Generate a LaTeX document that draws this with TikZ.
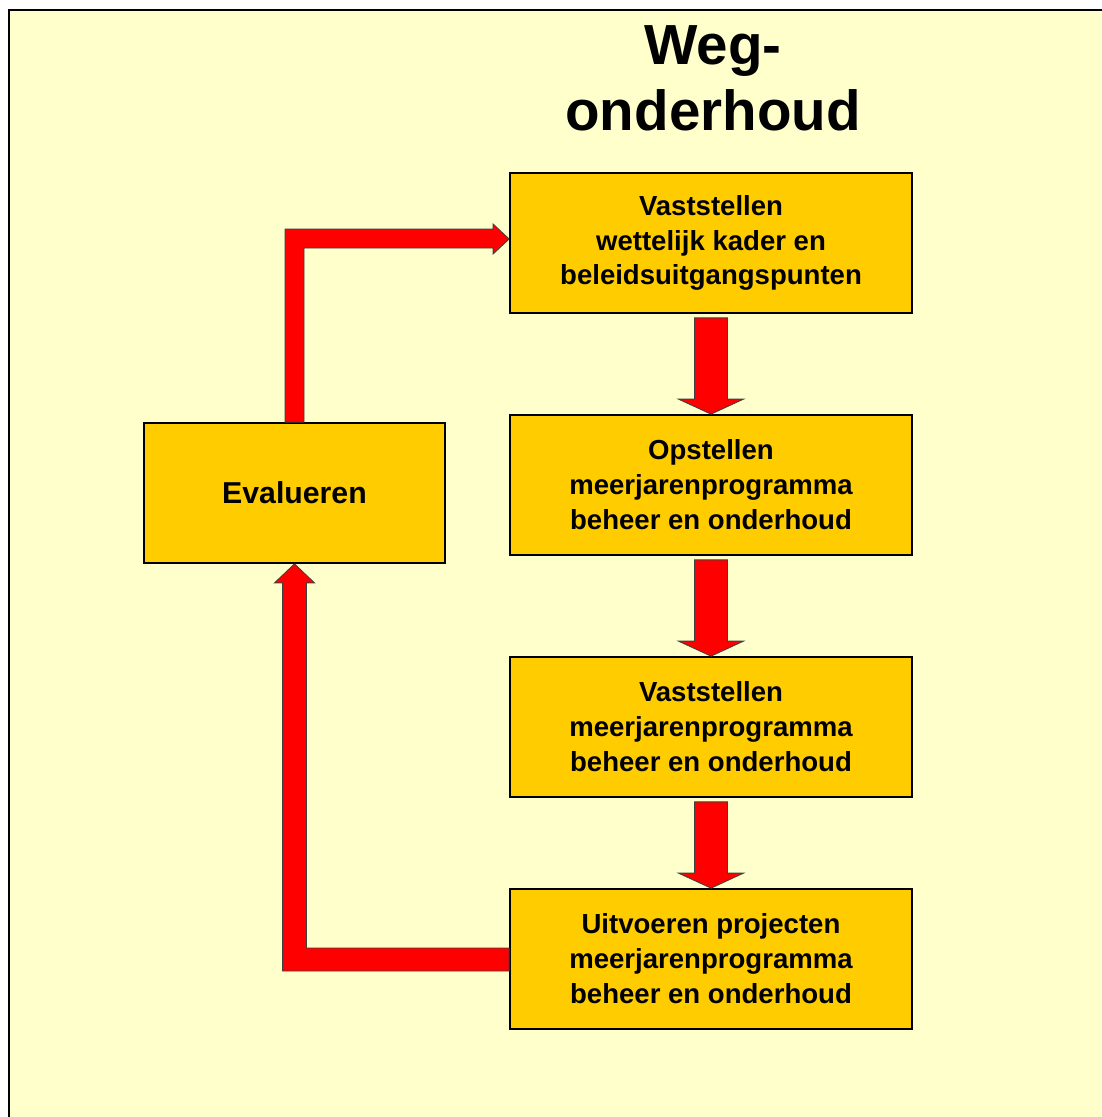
\documentclass[tikz,border=0pt]{standalone}
\usepackage{fontspec}
\setmainfont{Liberation Sans}
\usetikzlibrary{calc}

\definecolor{achtergrond}{HTML}{FFFFCC}
\definecolor{blokgeel}{HTML}{FFCC00}

\tikzset{
  blok/.style={draw, rectangle, line width=1.2pt, fill=blokgeel, align=center,
    minimum width=10.05cm, minimum height=3.5cm,
    font=\fontsize{19.6}{24.8}\selectfont\bfseries},
  blokpijl/.style={fill=red, draw=black!75, line width=0.6pt, line join=miter}
}

% block arrow straight down from one box to the next
\newcommand{\pijlomlaag}[2]{%
  \draw[blokpijl] ($(#1.south)+(-16.5,4)$) -- ($(#1.south)+(16.5,4)$)
    -- ($(#2.north)+(16.5,-15)$) -- ($(#2.north)+(32.5,-15)$) -- (#2.north)
    -- ($(#2.north)+(-32.5,-15)$) -- ($(#2.north)+(-16.5,-15)$) -- cycle;}

\begin{document}
\begin{tikzpicture}[x=0.025cm, y=-0.025cm]

\useasboundingbox (0,0) rectangle (1101,1117);
\fill[white] (0,0) rectangle (1101,1117);
\draw[line width=1.4pt, fill=achtergrond] (9,10) rectangle (1130,1140);

% Define the nodes with coordinates
\node[align=center, font=\fontsize{40.2}{46.8}\selectfont\bfseries] (titel) at (713,78) {Weg-\\onderhoud};
\node[blok] (VK) at (711,243) {Vaststellen\\wettelijk kader en\\beleidsuitgangspunten};
\node[blok] (OM) at (711,485) {Opstellen\\meerjarenprogramma\\beheer en onderhoud};
\node[blok] (VM) at (711,727) {Vaststellen\\meerjarenprogramma\\beheer en onderhoud};
\node[blok] (UP) at (711,959) {Uitvoeren projecten\\meerjarenprogramma\\beheer en onderhoud};
\node[blok, minimum width=7.525cm, font=\fontsize{21.5}{26}\selectfont\bfseries] (EV) at (294.5,493) {Evalueren};

% Corners of the loop
\coordinate (hoekboven) at (EV.north |- VK.west);
\coordinate (hoekonder) at (EV.south |- UP.west);

% Draw the block arrows
\pijlomlaag{VK}{OM}
\pijlomlaag{OM}{VM}
\pijlomlaag{VM}{UP}

\draw[blokpijl] ($(EV.north)+(-9.5,0)$) -- ($(hoekboven)+(-9.5,-14)$)
  -- ($(VK.west)+(-16,-14)$) -- ($(VK.west)+(-16,-19)$) -- ($(VK.west)+(0,-4)$)
  -- ($(VK.west)+(-16,11)$) -- ($(VK.west)+(-16,5)$)
  -- ($(hoekboven)+(9.5,5)$) -- ($(EV.north)+(9.5,0)$) -- cycle;

\draw[blokpijl] ($(UP.west)+(0,-11)$) -- ($(hoekonder)+(12,-11)$)
  -- ($(EV.south)+(12,19)$) -- ($(EV.south)+(20,19)$) -- (EV.south)
  -- ($(EV.south)+(-20,19)$) -- ($(EV.south)+(-12,19)$)
  -- ($(hoekonder)+(-12,12)$) -- ($(UP.west)+(0,12)$) -- cycle;

\end{tikzpicture}
\end{document}
